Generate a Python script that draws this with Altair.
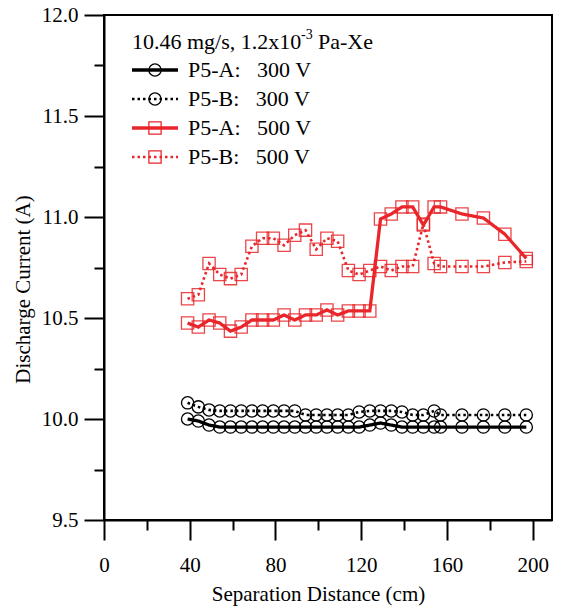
import altair as alt
import pandas as pd

# ---- data ----
distance = [39, 44, 49, 54, 59, 64, 69, 74, 79, 84, 89, 94, 99, 104, 109, 114, 119,
            124, 129, 134, 139, 144, 149, 154, 157, 167, 177, 187, 197]

a300 = [10.00, 9.99, 9.97, 9.96, 9.96, 9.96, 9.96, 9.96, 9.96, 9.96, 9.96, 9.96, 9.96,
        9.96, 9.96, 9.96, 9.96, 9.97, 9.98, 9.97, 9.96, 9.96, 9.96, 9.96, 9.96, 9.96,
        9.96, 9.96, 9.96]
b300 = [10.08, 10.06, 10.045, 10.04, 10.04, 10.04, 10.04, 10.04, 10.04, 10.04, 10.04,
        10.02, 10.02, 10.02, 10.02, 10.02, 10.035, 10.04, 10.04, 10.04, 10.035, 10.02,
        10.02, 10.04, 10.02, 10.02, 10.02, 10.02, 10.02]
a500 = [10.475, 10.455, 10.49, 10.475, 10.435, 10.455, 10.49, 10.49, 10.49, 10.515,
        10.49, 10.515, 10.515, 10.54, 10.515, 10.535, 10.535, 10.535, 10.99, 11.015,
        11.05, 11.05, 10.96, 11.05, 11.05, 11.015, 10.995, 10.915, 10.795]
b500 = [10.595, 10.615, 10.77, 10.715, 10.695, 10.715, 10.855, 10.895, 10.895, 10.86,
        10.91, 10.935, 10.84, 10.895, 10.88, 10.735, 10.715, 10.735, 10.755, 10.735,
        10.755, 10.755, 10.965, 10.77, 10.755, 10.755, 10.755, 10.775, 10.78]

series_names = ["P5-A:\u00a0\u00a0 300 V", "P5-B:\u00a0\u00a0 300 V",
                "P5-A:\u00a0\u00a0 500 V", "P5-B:\u00a0\u00a0 500 V"]
series_values = [a300, b300, a500, b500]
series_colors = ["#000000", "#000000", "#e8262b", "#e8262b"]
series_shapes = ["circle", "circle", "square", "square"]
series_dotted = [False, True, False, True]

legend_title = ["10.46 mg/s, 1.2x10", "-3", "Pa-Xe"]

x_ticks = [0, 20, 40, 60, 80, 100, 120, 140, 160, 180, 200]
y_ticks = [9.5, 9.75, 10.0, 10.25, 10.5, 10.75, 11.0, 11.25, 11.5, 11.75, 12.0]

FONT = "Liberation Serif"

x_scale = alt.Scale(domain=[0, 209], nice=False, zero=False)
y_scale = alt.Scale(domain=[9.5, 12.0], nice=False, zero=False)

x_axis = alt.Axis(
    values=x_ticks,
    labelExpr="datum.value % 40 === 0 ? datum.label : ''",
    tickSize={"condition": {"test": "datum.value % 40 === 0", "value": 20}, "value": 10},
    tickWidth=2, tickColor="black", domainColor="black", domainWidth=2,
    labelFont=FONT, labelFontSize=21, labelColor="black", labelPadding=14,
    labelOverlap=False, labelFlush=False, grid=False,
    title="Separation Distance (cm)", titleFont=FONT, titleFontSize=21,
    titleFontWeight="normal", titleColor="black", titleX=214, titleY=63,
    titleAnchor="middle", titleAlign="center",
)
y_axis = alt.Axis(
    values=y_ticks,
    labelExpr="datum.value % 0.5 === 0 ? format(datum.value, '.1f') : ''",
    tickSize={"condition": {"test": "datum.value % 0.5 === 0", "value": 20}, "value": 10},
    tickWidth=2, tickColor="black", domainColor="black", domainWidth=2,
    labelFont=FONT, labelFontSize=21, labelColor="black", labelPadding=6,
    labelOverlap=False, labelFlush=False, grid=False,
    title="Discharge Current (A)", titleFont=FONT, titleFontSize=21,
    titleFontWeight="normal", titleColor="black", titleX=-71, titleY=274,
    titleAlign="center",
)

layers = []
for i, (name, vals) in enumerate(zip(series_names, series_values)):
    df = pd.DataFrame({"distance": distance, "current": vals, "series": name})
    dotted = series_dotted[i]
    enc = dict(
        x=alt.X("distance:Q", scale=x_scale, axis=x_axis),
        y=alt.Y("current:Q", scale=y_scale, axis=y_axis),
    )
    line = alt.Chart(df).mark_line(
        color=series_colors[i],
        strokeWidth=2.6 if dotted else 3.3,
        strokeDash=[2.5, 3] if dotted else [1, 0],
        strokeCap="butt",
    ).encode(**enc)
    pts = alt.Chart(df).mark_point(
        shape=series_shapes[i], size=150, filled=False,
        color=series_colors[i], strokeWidth=1.3, opacity=0.85 if i >= 2 else 1,
    ).encode(**enc)
    layers += [line, pts]

# ---- legend built inside the plot (top-left) ----
row_y = [55, 84, 113, 142]
leg_x0, leg_x1, leg_mid, leg_text = 28, 74, 51, 84
for i, name in enumerate(series_names):
    dotted = series_dotted[i]
    rule = alt.Chart(pd.DataFrame({"k": [0]})).mark_rule(
        color=series_colors[i],
        strokeWidth=2.6 if dotted else 3.3,
        strokeDash=[2.5, 3] if dotted else [1, 0],
    ).encode(x=alt.value(leg_x0), x2=alt.value(leg_x1), y=alt.value(row_y[i]))
    sym = alt.Chart(pd.DataFrame({"k": [0]})).mark_point(
        shape=series_shapes[i], size=150, filled=False, color=series_colors[i],
        strokeWidth=1.3, opacity=1,
    ).encode(x=alt.value(leg_mid), y=alt.value(row_y[i]))
    txt = alt.Chart(pd.DataFrame({"t": [name]})).mark_text(
        font=FONT, fontSize=22, align="left", baseline="middle", color="black",
    ).encode(x=alt.value(leg_text), y=alt.value(row_y[i]), text="t:N")
    layers += [rule, sym, txt]

t1 = alt.Chart(pd.DataFrame({"t": [legend_title[0]]})).mark_text(
    font=FONT, fontSize=22, align="left", baseline="middle", color="black"
).encode(x=alt.value(28), y=alt.value(27), text="t:N")
t2 = alt.Chart(pd.DataFrame({"t": [legend_title[1]]})).mark_text(
    font=FONT, fontSize=14, align="left", baseline="middle", color="black"
).encode(x=alt.value(197), y=alt.value(20), text="t:N")
t3 = alt.Chart(pd.DataFrame({"t": [legend_title[2]]})).mark_text(
    font=FONT, fontSize=22, align="left", baseline="middle", color="black"
).encode(x=alt.value(214), y=alt.value(27), text="t:N")
layers += [t1, t2, t3]

chart = alt.layer(*layers).properties(
    width=448, height=505,
    padding={"left": 104, "top": 15, "right": 9, "bottom": 88},
    autosize=alt.AutoSizeParams(type="none"),
    background="white",
).configure(
    font=FONT,
    style={"guide-label": {"font": FONT}, "guide-title": {"font": FONT}},
).configure_view(
    stroke="black", strokeWidth=2
).configure_axis(
    labelFont=FONT, titleFont=FONT
).configure_text(
    font=FONT
)

chart.save("out.html", embed_options={"renderer": "svg", "actions": False})
